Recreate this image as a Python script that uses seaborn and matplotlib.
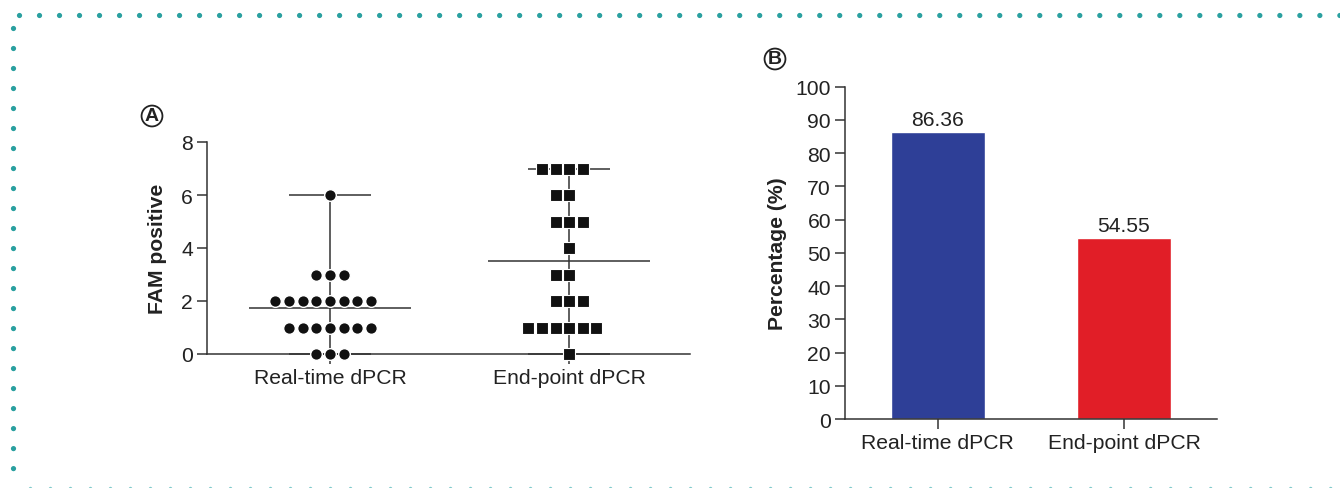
import numpy as np
import pandas as pd
import matplotlib
matplotlib.use("Agg")
import matplotlib.pyplot as plt
import seaborn as sns
from matplotlib.lines import Line2D

categories = ["Real-time dPCR", "End-point dPCR"]
realtime_fam = [0, 0, 0, 1, 1, 1, 1, 1, 1, 1, 2, 2, 2, 2, 2, 2, 2, 2, 3, 3, 3, 6]
endpoint_fam = [0, 1, 1, 1, 1, 1, 1, 2, 2, 2, 3, 3, 4, 5, 5, 5, 6, 6, 7, 7, 7, 7]
percentages = [86.36, 54.55]
bar_colors = ["#2E3F97", "#E11E27"]
a_yticks = [0, 2, 4, 6, 8]
b_yticks = list(range(0, 101, 10))

sns.set_theme(style="ticks")
plt.rcParams["font.family"] = ["Liberation Sans", "DejaVu Sans"]

W, H = 1340, 489
fig = plt.figure(figsize=(W / 100, H / 100), dpi=100)
axA = fig.add_axes([207 / W, 1 - 355 / H, (690 - 207) / W, (355 - 143) / H])
axB = fig.add_axes([845 / W, 1 - 420 / H, (1217 - 845) / W, (420 - 87.7) / H])

axis_col = "#333333"
text_col = "#222222"
fs = 15.2

# ---------- Panel A ----------
df = pd.DataFrame({
    "group": [categories[0]] * len(realtime_fam) + [categories[1]] * len(endpoint_fam),
    "value": realtime_fam + endpoint_fam,
})
for cat, mk, sz, elw in zip(categories, ["o", "s"], [8.4, 8.5], [1.0, 0.8]):
    sub = df[df["group"] == cat]
    sns.swarmplot(data=sub, x="group", y="value", order=categories, marker=mk,
                  size=sz, color="#111111", edgecolor="white", linewidth=elw,
                  ax=axA, clip_on=False, zorder=3)

for i, vals in enumerate([realtime_fam, endpoint_fam]):
    m = np.mean(vals)
    lo, hi = np.min(vals), np.max(vals)
    axA.hlines(m, i - 0.34, i + 0.34, color=axis_col, lw=1.1, zorder=2)
    axA.hlines([lo, hi], i - 0.17, i + 0.17, color=axis_col, lw=1.1, zorder=2, clip_on=False)
    axA.vlines(i, lo, hi, color=axis_col, lw=1.1, zorder=2)

axA.set_ylim(0, 8)
axA.set_xlim(-0.515, 1.506)
axA.set_yticks(a_yticks)
axA.set_xlabel("")
axA.set_ylabel("FAM positive", fontsize=fs, fontweight="bold", color=text_col, labelpad=10)

# ---------- Panel B ----------
sns.barplot(x=categories, y=percentages, hue=categories, palette=bar_colors,
            width=0.505, saturation=1, legend=False, ax=axB)
for cont in axB.containers:
    axB.bar_label(cont, fmt="%.2f", padding=2, fontsize=fs, color=text_col)
axB.set_ylim(0, 100)
axB.set_xlim(-0.497, 1.499)
axB.set_yticks(b_yticks)
axB.set_ylabel("Percentage (%)", fontsize=fs, fontweight="bold", color=text_col, labelpad=6)

for ax in (axA, axB):
    sns.despine(ax=ax)
    for s in ("left", "bottom"):
        ax.spines[s].set_color(axis_col)
        ax.spines[s].set_linewidth(1.1)
    ax.tick_params(length=7, width=1.1, color=axis_col, labelsize=fs,
                   labelcolor=text_col, pad=3)

# ---------- Panel letters ----------
for (px, py, lab) in [(152, 117, "A"), (775, 60, "B")]:
    fig.text(px / W, 1 - py / H, lab, ha="center", va="center", fontsize=14,
             fontweight="bold", color=text_col,
             bbox=dict(boxstyle="circle,pad=0.1", fc="white", ec=text_col, lw=1.3))

# ---------- Dotted frame ----------
teal = "#2AA0A0"
lw = 3.8
dots = (0, (0.001, 14.4 / lw))
fig.add_artist(Line2D([19 / W, 1.0], [1 - 16 / H] * 2, transform=fig.transFigure,
                      color=teal, lw=lw, linestyle=dots, dash_capstyle="round"))
fig.add_artist(Line2D([13 / W] * 2, [1 - 29 / H, 0.0], transform=fig.transFigure,
                      color=teal, lw=lw, linestyle=dots, dash_capstyle="round"))
fig.add_artist(Line2D([30 / W, 1.0], [0.4 / H] * 2, transform=fig.transFigure,
                      color="#7FCACA", lw=2.5, linestyle=(0, (0.001, 14.4 / 2.5)),
                      dash_capstyle="round"))

fig.savefig("out.png", dpi=100)
